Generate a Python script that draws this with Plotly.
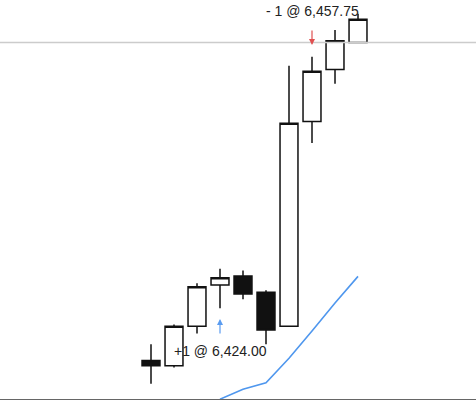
import plotly.graph_objects as go

# bar index and OHLC prices
bars = list(range(10))
opens = [6413.50, 6412.75, 6418.25, 6424.00, 6425.25, 6423.00, 6418.25, 6446.75, 6454.00, 6457.75]
highs = [6415.75, 6418.50, 6424.25, 6426.25, 6426.00, 6423.25, 6454.50, 6455.75, 6459.50, 6461.75]
lows = [6410.25, 6412.50, 6417.25, 6420.75, 6422.00, 6415.75, 6418.25, 6443.75, 6452.00, 6457.75]
closes = [6412.75, 6418.25, 6423.75, 6425.00, 6422.75, 6417.75, 6446.50, 6453.75, 6458.00, 6461.00]

# moving-average style line (starts on bar 3)
line_bars = [3, 4, 5, 6, 7, 8, 9]
line_vals = [6408.1, 6409.5, 6410.4, 6413.8, 6417.6, 6421.5, 6425.2]

# trades
buy_bar, buy_price, buy_label = 3, 6424.00, "+1 @ 6,424.00"
sell_bar, sell_price, sell_label = 7, 6457.75, "- 1 @ 6,457.75"

fig = go.Figure()
fig.add_trace(
    go.Candlestick(
        x=bars,
        open=opens,
        high=highs,
        low=lows,
        close=closes,
        increasing=dict(fillcolor="white", line=dict(color="#111111", width=1.5)),
        decreasing=dict(fillcolor="#111111", line=dict(color="#111111", width=1.5)),
        whiskerwidth=0,
        showlegend=False,
    )
)
fig.add_trace(
    go.Scatter(
        x=line_bars,
        y=line_vals,
        mode="lines",
        line=dict(color="#4f97ee", width=1.6),
        showlegend=False,
    )
)

# level of the exit
fig.add_hline(y=sell_price, line=dict(color="#cccccc", width=1.5))

# entry arrow + label
fig.add_annotation(
    x=buy_bar, y=buy_price, text="", showarrow=True,
    ax=0, ay=16, yshift=-34,
    arrowhead=2, arrowsize=1, arrowwidth=1.2, arrowcolor="#5a9cf0",
)
fig.add_annotation(
    x=buy_bar, y=buy_price, text=buy_label, showarrow=False,
    yshift=-66, font=dict(size=14, color="#222222"),
)
# exit arrow + label
fig.add_annotation(
    x=sell_bar, y=sell_price, text="", showarrow=True,
    ax=0, ay=-16, yshift=-2.5,
    arrowhead=2, arrowsize=1, arrowwidth=1.2, arrowcolor="#e05050",
)
fig.add_annotation(
    x=sell_bar, y=sell_price, text=sell_label, showarrow=False,
    yshift=31.5, font=dict(size=14, color="#222222"),
)

fig.update_layout(
    width=476,
    height=400,
    margin=dict(t=0, b=1, l=0, r=0),
    paper_bgcolor="white",
    plot_bgcolor="white",
    font=dict(family="Liberation Sans, Arial, sans-serif"),
    boxgap=0.22,
    boxgroupgap=0,
    hovermode=False,
    xaxis=dict(
        range=[-6.565, 14.13],
        showticklabels=False,
        showgrid=False,
        zeroline=False,
        showline=True,
        linecolor="#666666",
        linewidth=1,
        ticks="",
        rangeslider=dict(visible=False),
    ),
    yaxis=dict(
        range=[6408.13, 6463.665],
        showticklabels=False,
        showgrid=False,
        zeroline=False,
        showline=False,
        ticks="",
    ),
)

fig.write_html(
    "out.html",
    config={"displayModeBar": False},
    post_script="document.body.style.margin='0';",
)
